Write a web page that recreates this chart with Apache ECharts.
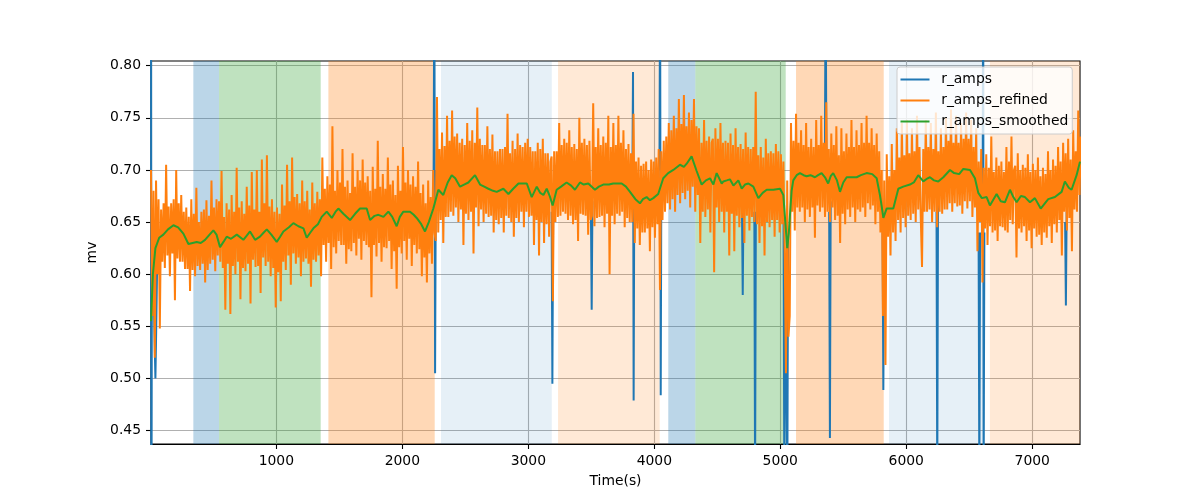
<!DOCTYPE html>
<html>
<head>
<meta charset="utf-8">
<script src="https://cdn.jsdelivr.net/npm/echarts@6/dist/echarts.min.js"></script>
<style>
html,body{margin:0;padding:0;background:#fff;}
#chart{width:1200px;height:500px;}
</style>
</head>
<body>
<div id="chart"></div>
<script>
// ---------- data ----------
const xTickLabels = [1000, 2000, 3000, 4000, 5000, 6000, 7000];
const yTickLabels = [0.45, 0.50, 0.55, 0.60, 0.65, 0.70, 0.75, 0.80];

// r_amps_refined sampled every 10 s starting at t = 5 s
const refinedStart = 5;
const refinedStep = 10;
const refinedValues = [
0.700,0.560,0.680,0.520, 0.690,0.600,0.672,0.548, 0.662,0.612,0.668,0.606, 0.705,0.618,0.665,0.598,
0.668,0.620,0.672,0.575, 0.700,0.615,0.668,0.612, 0.676,0.612,0.660,0.605, 0.664,0.605,0.655,0.584,
0.672,0.604,0.658,0.598, 0.683,0.608,0.650,0.604, 0.660,0.610,0.662,0.592, 0.671,0.604,0.656,0.610,
0.690,0.614,0.664,0.603, 0.672,0.618,0.670,0.612, 0.699,0.606,0.655,0.566, 0.668,0.610,0.662,0.562,
0.676,0.608,0.660,0.600, 0.702,0.612,0.664,0.576, 0.670,0.606,0.658,0.603, 0.684,0.610,0.666,0.572,
0.698,0.614,0.662,0.607, 0.700,0.608,0.660,0.582, 0.710,0.616,0.668,0.608, 0.714,0.612,0.665,0.598,
0.672,0.606,0.660,0.568, 0.664,0.602,0.658,0.574, 0.686,0.612,0.666,0.604, 0.705,0.618,0.670,0.590,
0.712,0.620,0.674,0.610, 0.677,0.616,0.668,0.598, 0.690,0.612,0.670,0.615, 0.680,0.610,0.662,0.588,
0.688,0.614,0.668,0.612, 0.679,0.618,0.672,0.598, 0.712,0.628,0.682,0.612, 0.694,0.630,0.686,0.605,
0.742,0.626,0.680,0.620, 0.700,0.632,0.688,0.628, 0.720,0.628,0.684,0.610, 0.690,0.624,0.678,0.622,
0.716,0.630,0.684,0.618, 0.700,0.634,0.690,0.614, 0.710,0.632,0.688,0.628, 0.694,0.626,0.680,0.578,
0.703,0.628,0.682,0.617, 0.728,0.630,0.684,0.612, 0.696,0.626,0.682,0.625, 0.712,0.632,0.686,0.605,
0.690,0.622,0.676,0.586, 0.704,0.626,0.680,0.620, 0.722,0.632,0.688,0.614, 0.700,0.634,0.686,0.608,
0.694,0.628,0.684,0.620, 0.708,0.624,0.678,0.598, 0.686,0.616,0.668,0.592, 0.690,0.620,0.674,0.610,
0.700,0.640,0.632,0.770, 0.640,0.720,0.652,0.736, 0.630,0.723,0.655,0.752, 0.655,0.728,0.660,0.757,
0.656,0.732,0.664,0.735, 0.650,0.726,0.662,0.730, 0.628,0.724,0.658,0.745, 0.652,0.728,0.660,0.738,
0.620,0.726,0.664,0.760, 0.646,0.730,0.662,0.724, 0.650,0.724,0.658,0.742, 0.655,0.720,0.656,0.734,
0.640,0.718,0.652,0.718, 0.648,0.720,0.654,0.720, 0.640,0.722,0.656,0.754, 0.654,0.716,0.650,0.728,
0.636,0.720,0.654,0.735, 0.650,0.724,0.660,0.722, 0.645,0.726,0.660,0.730, 0.655,0.722,0.656,0.718,
0.628,0.718,0.652,0.726, 0.618,0.720,0.650,0.730, 0.630,0.716,0.648,0.716, 0.636,0.708,0.713,0.574,
0.718,0.650,0.718,0.655, 0.745,0.656,0.724,0.660, 0.730,0.658,0.726,0.652, 0.738,0.656,0.722,0.648,
0.725,0.652,0.720,0.632, 0.750,0.658,0.726,0.657, 0.730,0.656,0.724,0.638, 0.728,0.652,0.656,0.764,
0.646,0.722,0.654,0.740, 0.655,0.724,0.656,0.732, 0.645,0.726,0.658,0.752, 0.600,0.722,0.656,0.745,
0.648,0.724,0.658,0.752, 0.656,0.726,0.660,0.738, 0.645,0.720,0.654,0.725, 0.650,0.716,0.650,0.754,
0.630,0.708,0.644,0.712, 0.628,0.704,0.640,0.706, 0.640,0.708,0.644,0.700, 0.622,0.710,0.645,0.708,
0.635,0.712,0.648,0.720, 0.585,0.718,0.652,0.728, 0.660,0.732,0.668,0.745, 0.662,0.738,0.672,0.752,
0.660,0.740,0.676,0.768, 0.668,0.744,0.678,0.772, 0.672,0.742,0.680,0.755, 0.664,0.748,0.684,0.768,
0.660,0.742,0.676,0.740, 0.630,0.726,0.660,0.748, 0.655,0.728,0.662,0.732, 0.640,0.726,0.730,0.602,
0.740,0.664,0.730,0.650, 0.745,0.660,0.726,0.640, 0.728,0.660,0.726,0.618, 0.735,0.658,0.724,0.622,
0.740,0.656,0.722,0.645, 0.725,0.654,0.720,0.630, 0.736,0.656,0.722,0.642, 0.720,0.655,0.722,0.650,
0.775,0.648,0.714,0.630, 0.722,0.646,0.712,0.618, 0.730,0.650,0.716,0.645, 0.718,0.652,0.716,0.636,
0.725,0.652,0.718,0.640, 0.715,0.648,0.708,0.622, 0.505,0.690,0.540,0.560, 0.745,0.660,0.728,0.642,
0.754,0.664,0.726,0.660, 0.738,0.664,0.724,0.650, 0.745,0.662,0.722,0.655, 0.730,0.664,0.722,0.635,
0.748,0.666,0.724,0.660, 0.752,0.664,0.726,0.655, 0.765,0.660,0.720,0.650, 0.735,0.664,0.724,0.652,
0.742,0.656,0.714,0.630, 0.740,0.658,0.718,0.648, 0.735,0.662,0.722,0.655, 0.748,0.664,0.722,0.650,
0.738,0.662,0.724,0.660, 0.745,0.664,0.726,0.655, 0.752,0.668,0.726,0.662, 0.740,0.666,0.724,0.648,
0.735,0.660,0.718,0.640, 0.700,0.560,0.690,0.513, 0.715,0.636,0.694,0.618, 0.725,0.640,0.700,0.632,
0.740,0.652,0.712,0.640, 0.745,0.654,0.714,0.645, 0.748,0.656,0.716,0.652, 0.740,0.658,0.718,0.650,
0.752,0.662,0.722,0.655, 0.607,0.720,0.660,0.748, 0.660,0.722,0.662,0.745, 0.650,0.720,0.660,0.755,
0.645,0.718,0.660,0.740, 0.658,0.722,0.662,0.750, 0.662,0.728,0.668,0.758, 0.660,0.726,0.668,0.752,
0.665,0.726,0.666,0.745, 0.658,0.730,0.670,0.755, 0.663,0.730,0.670,0.748, 0.655,0.722,0.664,0.740,
0.622,0.708,0.650,0.720, 0.592,0.702,0.644,0.715, 0.628,0.702,0.646,0.732, 0.640,0.698,0.642,0.712,
0.632,0.704,0.646,0.708, 0.645,0.698,0.642,0.722, 0.640,0.708,0.652,0.732, 0.648,0.700,0.704,0.616,
0.716,0.644,0.700,0.640, 0.705,0.646,0.702,0.632, 0.715,0.642,0.698,0.625, 0.706,0.644,0.700,0.636,
0.712,0.638,0.694,0.628, 0.702,0.640,0.696,0.635, 0.718,0.646,0.700,0.630, 0.710,0.648,0.704,0.640,
0.722,0.652,0.708,0.618, 0.726,0.660,0.716,0.642, 0.730,0.654,0.710,0.622, 0.738,0.662,0.718,0.660,
0.757,0.676,0.732,0.690
];

// r_amps: visible only where it departs from the refined signal (spikes); [t, value], null value = gap
const rAmps = [
[5,0.95],[8,0.30],[12,0.62],[22,0.64],[30,0.56],[40,0.50],[48,0.56],[56,0.63],[57,null],
[2248,0.68],[2254,0.90],[2260,0.505],[2266,0.70],[2267,null],
[3185,0.66],[3191,0.495],[3197,0.66],[3198,null],
[3497,0.66],[3503,0.566],[3509,0.67],[3510,null],
[3826,0.69],[3831,0.794],[3836,0.479],[3841,0.68],[3842,null],
[4041,0.70],[4046,0.90],[4051,0.484],[4056,0.70],[4057,null],
[4696,0.66],[4702,0.580],[4708,0.67],[4709,null],
[4794,0.66],[4800,0.40],[4806,0.66],[4807,null],
[5026,0.65],[5032,0.40],[5038,0.60],[5050,0.60],[5056,0.40],[5062,0.64],[5063,null],
[5354,0.70],[5360,0.90],[5366,0.70],[5367,null],
[5388,0.66],[5394,0.443],[5400,0.67],[5401,null],
[5812,0.64],[5818,0.489],[5824,0.62],[5825,null],
[6240,0.66],[6246,0.40],[6252,0.67],[6253,null],
[6574,0.64],[6580,0.40],[6586,0.64],[6587,null],
[6606,0.64],[6610,0.90],[6614,0.40],[6620,0.64],[6621,null],
[7261,0.65],[7267,0.570],[7273,0.66]
];

// r_amps_smoothed: [t, value]
const smoothed = [
[5,0.555],[20,0.600],[40,0.625],[70,0.635],[103,0.638],[140,0.643],[183,0.647],[220,0.645],[262,0.639],[302,0.629],
[335,0.630],[368,0.631],[400,0.630],[434,0.633],[470,0.638],[500,0.642],[525,0.638],[553,0.626],[580,0.631],[606,0.636],
[640,0.634],[686,0.638],[738,0.633],[765,0.637],[791,0.641],[831,0.633],[870,0.636],[900,0.640],[924,0.643],[960,0.638],
[1003,0.631],[1030,0.636],[1056,0.641],[1100,0.645],[1135,0.649],[1175,0.646],[1215,0.644],[1241,0.635],[1270,0.640],[1294,0.644],
[1330,0.648],[1360,0.655],[1400,0.660],[1440,0.654],[1470,0.660],[1492,0.663],[1532,0.658],[1585,0.652],[1625,0.658],[1664,0.663],
[1717,0.663],[1744,0.652],[1780,0.656],[1810,0.657],[1850,0.655],[1889,0.660],[1920,0.655],[1955,0.646],[1980,0.655],[2008,0.660],
[2061,0.660],[2090,0.657],[2114,0.654],[2150,0.648],[2180,0.641],[2210,0.650],[2246,0.663],[2286,0.681],[2325,0.676],[2360,0.688],
[2392,0.695],[2420,0.692],[2458,0.684],[2490,0.686],[2524,0.688],[2577,0.695],[2617,0.686],[2650,0.684],[2683,0.682],[2720,0.680],
[2749,0.679],[2802,0.682],[2842,0.677],[2880,0.682],[2922,0.687],[2988,0.687],[3027,0.674],[3067,0.684],[3095,0.678],[3120,0.676],
[3146,0.682],[3170,0.675],[3193,0.666],[3225,0.681],[3260,0.684],[3304,0.688],[3340,0.685],[3370,0.681],[3410,0.688],[3440,0.686],
[3476,0.687],[3529,0.681],[3560,0.684],[3595,0.686],[3640,0.686],[3674,0.687],[3741,0.687],[3775,0.684],[3807,0.679],[3850,0.672],
[3886,0.668],[3910,0.672],[3939,0.674],[3965,0.671],[3992,0.673],[4031,0.677],[4071,0.692],[4110,0.697],[4151,0.700],[4204,0.705],
[4235,0.703],[4257,0.706],[4296,0.713],[4336,0.699],[4376,0.686],[4410,0.690],[4442,0.692],[4469,0.686],[4495,0.697],[4508,0.697],
[4535,0.687],[4548,0.689],[4575,0.690],[4600,0.691],[4628,0.685],[4667,0.690],[4694,0.682],[4720,0.686],[4747,0.687],[4786,0.684],
[4826,0.673],[4860,0.678],[4892,0.681],[4945,0.681],[4998,0.682],[5024,0.676],[5040,0.650],[5055,0.625],[5068,0.640],[5077,0.657],
[5090,0.680],[5103,0.690],[5130,0.695],[5156,0.697],[5185,0.695],[5209,0.694],[5240,0.695],[5275,0.693],[5300,0.695],[5328,0.697],
[5355,0.693],[5380,0.687],[5400,0.694],[5420,0.697],[5450,0.690],[5474,0.679],[5500,0.688],[5527,0.693],[5570,0.693],[5606,0.693],
[5640,0.695],[5685,0.697],[5730,0.696],[5765,0.692],[5791,0.676],[5805,0.665],[5818,0.654],[5844,0.663],[5870,0.663],[5897,0.663],
[5937,0.682],[5976,0.684],[6029,0.686],[6060,0.688],[6095,0.695],[6135,0.689],[6170,0.692],[6188,0.693],[6220,0.690],[6254,0.689],
[6294,0.693],[6347,0.700],[6380,0.697],[6420,0.696],[6453,0.701],[6506,0.700],[6545,0.692],[6572,0.678],[6600,0.673],[6638,0.674],
[6664,0.666],[6717,0.677],[6750,0.670],[6783,0.669],[6823,0.681],[6850,0.674],[6876,0.669],[6910,0.675],[6942,0.674],[6982,0.669],
[7021,0.673],[7067,0.663],[7100,0.668],[7127,0.672],[7180,0.674],[7233,0.679],[7259,0.689],[7290,0.683],[7312,0.681],[7352,0.695],
[7379,0.708]
];

// shaded phases: [start, end] in seconds, and their kind
const spanBounds = [[341,545],[545,1352],[1413,2257],[2307,3186],[3236,4043],[4111,4326],[4326,5043],[5125,5821],[5863,6624],[6664,7379]];
const spanKinds = ['blue','green','orange','lightblue','lightorange','blue','green','orange','lightblue','lightorange'];

// ---------- styles ----------
const spanColors = {
  blue: 'rgba(31,119,180,0.3)',
  green: 'rgba(44,160,44,0.3)',
  orange: 'rgba(255,127,14,0.3)',
  lightblue: 'rgba(31,119,180,0.11)',
  lightorange: 'rgba(255,127,14,0.17)'
};
const FONT = 'DejaVu Sans';
const FS = 13.9;

const refined = refinedValues.map((v, i) => [refinedStart + i * refinedStep, v]);
const areaData = spanBounds.map((b, i) => [
  {xAxis: b[0], itemStyle: {color: spanColors[spanKinds[i]]}},
  {xAxis: b[1]}
]);

const chart = echarts.init(document.getElementById('chart'), null, {renderer: 'canvas'});
chart.setOption({
  animation: false,
  backgroundColor: '#ffffff',
  textStyle: {fontFamily: FONT},
  grid: {left: 151, right: 120, top: 61, bottom: 56, show: true, borderColor: '#000', borderWidth: 1.1, backgroundColor: 'transparent'},
  legend: {
    data: ['r_amps', 'r_amps_refined', 'r_amps_smoothed'],
    orient: 'vertical',
    left: 897, top: 67,
    padding: [5.5, 4, 5.5, 3.5],
    itemWidth: 29, itemHeight: 14, itemGap: 7,
    icon: 'path://M0,0H29V2H0Z',
    backgroundColor: 'rgba(255,255,255,0.8)',
    borderColor: '#cccccc', borderWidth: 1, borderRadius: 3,
    textStyle: {fontFamily: FONT, fontSize: FS, color: '#000', padding: [0, 0, 0, 6.7]}
  },
  xAxis: {
    type: 'value', min: 5, max: 7379, splitNumber: 7,
    name: 'Time(s)', nameLocation: 'middle', nameGap: 30,
    nameTextStyle: {fontFamily: FONT, fontSize: FS, color: '#000'},
    axisLine: {show: true, lineStyle: {color: '#000', width: 1.1}},
    axisTick: {show: true, length: 5, lineStyle: {color: '#000', width: 1.1}, customValues: xTickLabels},
    axisLabel: {fontFamily: FONT, fontSize: FS, color: '#000', margin: 10,
      customValues: xTickLabels, formatter: v => String(Math.round(v))},
    splitLine: {show: true, lineStyle: {color: '#b0b0b0', width: 1.1}}
  },
  yAxis: {
    type: 'value', min: 0.4372, max: 0.8045, splitNumber: 7,
    name: 'mv', nameLocation: 'middle', nameGap: 46, nameRotate: 90,
    nameTextStyle: {fontFamily: FONT, fontSize: FS, color: '#000'},
    axisLine: {show: true, lineStyle: {color: '#000', width: 1.1}},
    axisTick: {show: true, length: 5, lineStyle: {color: '#000', width: 1.1}, customValues: yTickLabels},
    axisLabel: {fontFamily: FONT, fontSize: FS, color: '#000', margin: 10,
      customValues: yTickLabels, formatter: v => Number(v).toFixed(2)},
    splitLine: {show: true, lineStyle: {color: '#b0b0b0', width: 1.1}}
  },
  series: [
    {
      name: 'r_amps', type: 'line', data: rAmps, showSymbol: false, symbol: 'none',
      connectNulls: false, lineStyle: {color: '#1f77b4', width: 2}, itemStyle: {color: '#1f77b4'},
      markArea: {silent: true, data: areaData}
    },
    {
      name: 'r_amps_refined', type: 'line', data: refined, showSymbol: false, symbol: 'none',
      lineStyle: {color: '#ff7f0e', width: 2}, itemStyle: {color: '#ff7f0e'}
    },
    {
      name: 'r_amps_smoothed', type: 'line', data: smoothed, showSymbol: false, symbol: 'none',
      lineStyle: {color: '#2ca02c', width: 2}, itemStyle: {color: '#2ca02c'}
    }
  ]
});
</script>
</body>
</html>
